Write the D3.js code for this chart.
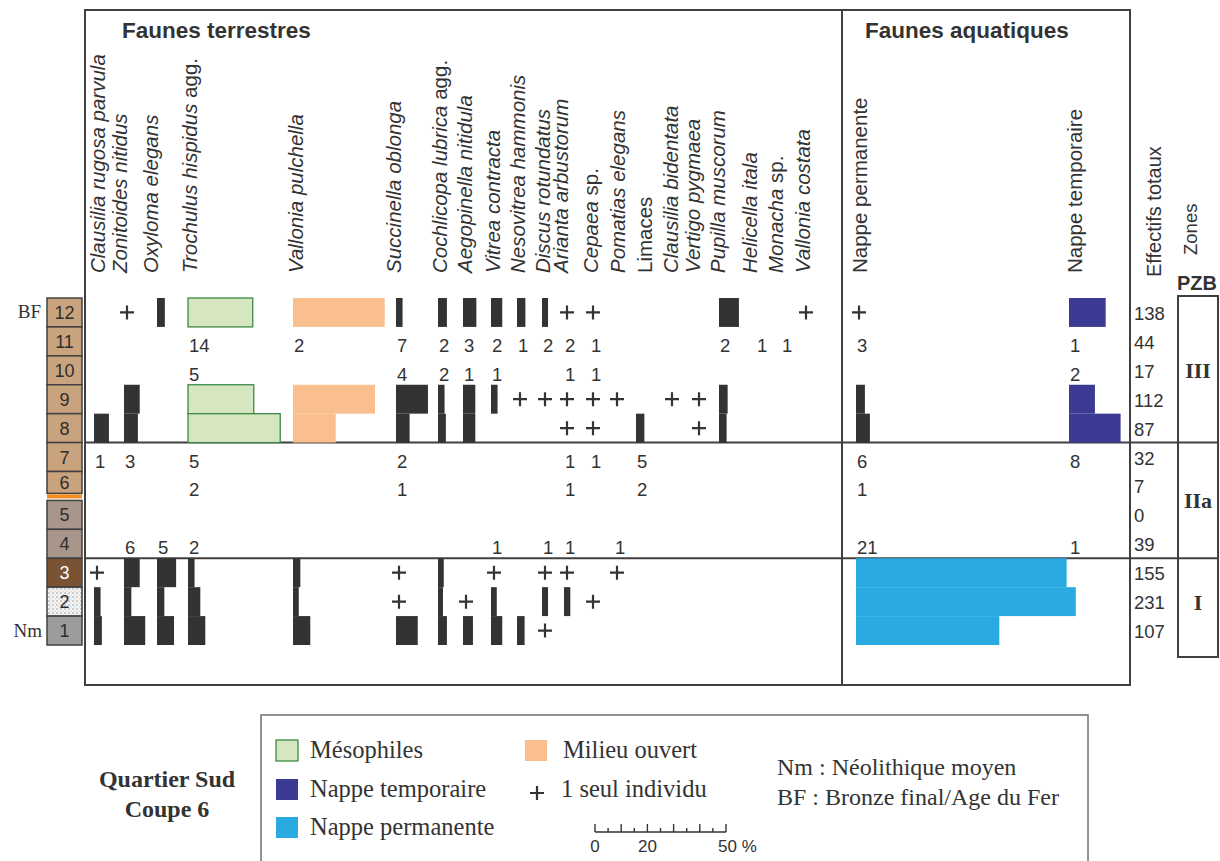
<!DOCTYPE html>
<html>
<head>
<meta charset="utf-8">
<script src="https://cdn.jsdelivr.net/npm/d3@7/dist/d3.min.js"></script>
<style>
  body { margin: 0; background: #fff; }
  svg { display: block; }
</style>
</head>
<body>
<div id="chart"></div>
<script>
// stratigraphic levels, top to bottom
var levels = [12, 11, 10, 9, 8, 7, 6, 5, 4, 3, 2, 1];
var totals = [138, 44, 17, 112, 87, 32, 7, 0, 39, 155, 231, 107];
var zones = ["III", "IIa", "I"];
var zoneTop = [12, 7, 3];
var zoneBottom = [8, 4, 1];

var taxa = [
    "Clausilia rugosa parvula", "Zonitoides nitidus", "Oxyloma elegans", "Trochulus hispidus agg.",
    "Vallonia pulchella", "Succinella oblonga", "Cochlicopa lubrica agg.", "Aegopinella nitidula",
    "Vitrea contracta", "Nesovitrea hammonis", "Discus rotundatus", "Arianta arbustorum",
    "Cepaea sp.", "Pomatias elegans", "Limaces", "Clausilia bidentata", "Vertigo pygmaea",
    "Pupilla muscorum", "Helicella itala", "Monacha sp.", "Vallonia costata",
    "Nappe permanente", "Nappe temporaire"
];
var plainTaxa = ["Limaces", "Nappe permanente", "Nappe temporaire"];

// percentages (levels with enough shells), "+" = 1 seul individu
var barLevels = [12, 9, 8, 3, 2, 1];
var pct12 = [0, "+", 3.0, 24.7, 35.0, 2.5, 3.4, 5.1, 4.3, 3.2, 2.3, "+", "+", 0, 0, 0, 0, 7.6, 0, 0, "+", "+", 14.0];
var pct9 = [0, 6.0, 0, 25.1, 31.3, 12.2, 2.5, 4.7, 2.5, "+", "+", "+", "+", "+", 0, "+", "+", 3.3, 0, 0, 0, 3.4, 9.9];
var pct8 = [5.7, 5.3, 0, 35.2, 16.3, 5.2, 3.0, 4.7, 0, 0, 0, "+", "+", 0, 3.2, 0, "+", 2.9, 0, 0, 0, 5.3, 19.7];
var pct3 = ["+", 6.0, 7.3, 2.5, 2.8, "+", 2.2, 0, "+", 0, "+", "+", 0, "+", 0, 0, 0, 0, 0, 0, 0, 80.4, 0];
var pct2 = [2.5, 2.8, 2.8, 4.7, 2.2, "+", 1.9, "+", 2.2, 0, 2.3, 2.4, "+", 0, 0, 0, 0, 0, 0, 0, 0, 83.9, 0];
var pct1 = [3.0, 8.1, 6.5, 6.6, 6.6, 8.3, 3.4, 3.8, 4.3, 2.9, "+", 0, 0, 0, 0, 0, 0, 0, 0, 0, 0, 54.7, 0];

// raw counts (small samples)
var countLevels = [11, 10, 7, 6, 5, 4];
var count11 = [0, 0, 0, 14, 2, 7, 2, 3, 2, 1, 2, 2, 1, 0, 0, 0, 0, 2, 1, 1, 0, 3, 1];
var count10 = [0, 0, 0, 5, 0, 4, 2, 1, 1, 0, 0, 1, 1, 0, 0, 0, 0, 0, 0, 0, 0, 0, 2];
var count7 = [1, 3, 0, 5, 0, 2, 0, 0, 0, 0, 0, 1, 1, 0, 5, 0, 0, 0, 0, 0, 0, 6, 8];
var count6 = [0, 0, 0, 2, 0, 1, 0, 0, 0, 0, 0, 1, 0, 0, 2, 0, 0, 0, 0, 0, 0, 1, 0];
var count5 = [0, 0, 0, 0, 0, 0, 0, 0, 0, 0, 0, 0, 0, 0, 0, 0, 0, 0, 0, 0, 0, 0, 0];
var count4 = [0, 6, 5, 2, 0, 0, 0, 0, 1, 0, 1, 1, 0, 1, 0, 0, 0, 0, 0, 0, 0, 21, 1];

// ecological groups shown in colour, per zone
var groups = ["Mésophiles", "Milieu ouvert", "Nappe temporaire", "Nappe permanente"];
var groupTaxa = ["Trochulus hispidus agg.", "Vallonia pulchella", "Nappe temporaire", "Nappe permanente"];
var groupZone = ["III", "III", "III", "I"];

var width = 1220, height = 861;
var ink = "#333333";
var sans = "'Liberation Sans', Arial, sans-serif";
var serif = "'Liberation Serif', 'Times New Roman', serif";

var svg = d3.select("#chart").append("svg")
    .attr("width", width)
    .attr("height", height);

var defs = svg.append("defs");
var dots = defs.append("pattern")
    .attr("id", "dots").attr("width", 4).attr("height", 4)
    .attr("patternUnits", "userSpaceOnUse");
dots.append("rect").attr("width", 4).attr("height", 4).attr("fill", "#f4f4f4");
dots.append("circle").attr("cx", 1).attr("cy", 1).attr("r", 0.7).attr("fill", "#8a8a8a");
dots.append("circle").attr("cx", 3).attr("cy", 3).attr("r", 0.5).attr("fill", "#b0b0b0");

// scales
var y = d3.scaleBand().domain(levels).range([298, 645]);
var bw = y.bandwidth();
var w = d3.scaleLinear().domain([0, 50]).range([0, 131]);
var colX = d3.scaleOrdinal().domain(taxa).range([
    94, 124, 157, 188, 293, 396, 438, 463, 491, 517, 542, 564,
    590, 614, 636, 669, 696, 719, 756, 781, 803, 856, 1069
]);
var labX = d3.scaleOrdinal().domain(taxa).range([
    104.5, 126.5, 158, 196.5, 303, 401, 446.5, 471.5, 499.5, 524.5, 549.5, 568,
    598, 624.5, 651.5, 678, 699.5, 724.5, 756.5, 783, 809.5, 866.5, 1081.5
]);
var groupColor = d3.scaleOrdinal().domain(groups)
    .range(["#d5e6c1", "#f9bf8f", "#3b3b93", "#29abe2"]);
var levelFill = d3.scaleOrdinal().domain(levels)
    .range(["#c9a37d", "#c9a37d", "#c9a37d", "#c9a37d", "#c9a37d", "#c9a37d", "#c9a37d",
            "#a8968a", "#a8968a", "#7a5234", "url(#dots)", "#9c9c9c"]);

var zoneOf = function (lv) {
    return lv >= 8 ? "III" : (lv >= 4 ? "IIa" : "I");
};
var groupOf = function (taxon, lv) {
    var i = groupTaxa.indexOf(taxon);
    if (i < 0 || groupZone[i] !== zoneOf(lv)) return null;
    return groups[i];
};

// flatten tables
var pctRows = [pct12, pct9, pct8, pct3, pct2, pct1];
var countRows = [count11, count10, count7, count6, count5, count4];
var bars = [], singles = [], counts = [];
barLevels.forEach(function (lv, i) {
    pctRows[i].forEach(function (v, j) {
        if (v === "+") singles.push({level: lv, taxon: taxa[j]});
        else if (v > 0) bars.push({level: lv, taxon: taxa[j], value: v});
    });
});
countLevels.forEach(function (lv, i) {
    countRows[i].forEach(function (v, j) {
        if (v > 0) counts.push({level: lv, taxon: taxa[j], value: v});
    });
});

// frame
var frame = svg.append("g").attr("fill", "none").attr("stroke", "#404040").attr("stroke-width", 2);
frame.append("rect").attr("x", 85).attr("y", 10).attr("width", 1045).attr("height", 675);
frame.append("line").attr("x1", 842).attr("x2", 842).attr("y1", 10).attr("y2", 685);
[8, 4].forEach(function (lv) {
    frame.append("line")
        .attr("x1", 85).attr("x2", 1218)
        .attr("y1", y(lv) + bw).attr("y2", y(lv) + bw);
});
frame.append("rect")
    .attr("x", 1178).attr("y", y(12) - 2)
    .attr("width", 40).attr("height", y(1) + bw + 12 - (y(12) - 2));

// headers
svg.append("text").attr("x", 122).attr("y", 38).text("Faunes terrestres")
    .attr("font-family", sans).attr("font-weight", "bold").attr("font-size", 22.5).attr("fill", ink);
svg.append("text").attr("x", 865).attr("y", 38).text("Faunes aquatiques")
    .attr("font-family", sans).attr("font-weight", "bold").attr("font-size", 22.5).attr("fill", ink);

var labels = svg.append("g").attr("font-family", sans).attr("font-size", 20.5).attr("fill", ink)
    .selectAll("text").data(taxa).join("text")
    .attr("transform", function (d) { return "translate(" + labX(d) + ",273) rotate(-90)"; });
labels.each(function (d) {
    var t = d3.select(this);
    if (plainTaxa.indexOf(d) >= 0) { t.text(d); return; }
    var m = d.match(/^(.*?)( agg\.| sp\.)?$/);
    t.append("tspan").attr("font-style", "italic").text(m[1]);
    if (m[2]) t.append("tspan").text(m[2]);
});

svg.append("text").attr("transform", "translate(1161,277) rotate(-90)")
    .attr("font-family", sans).attr("font-size", 20).attr("fill", ink).text("Effectifs totaux");
svg.append("text").attr("transform", "translate(1197,255) rotate(-90)")
    .attr("font-family", sans).attr("font-size", 18.5).attr("fill", ink).text("Zones");
svg.append("text").attr("x", 1197).attr("y", 290).attr("text-anchor", "middle")
    .attr("font-family", sans).attr("font-weight", "bold").attr("font-size", 20).attr("fill", ink).text("PZB");

// level column
var boxH = function (lv) { return lv === 6 ? bw - 7 : bw; };
var col = svg.append("g");
col.selectAll("rect").data(levels).join("rect")
    .attr("x", 47).attr("y", function (d) { return y(d); })
    .attr("width", 35).attr("height", boxH)
    .attr("fill", levelFill)
    .attr("stroke", "#404040").attr("stroke-width", 1.5);
col.append("rect")
    .attr("x", 47).attr("y", y(6) + bw - 6).attr("width", 35).attr("height", 4)
    .attr("fill", "#f28c1e");
col.selectAll("text").data(levels).join("text")
    .attr("x", 64.5)
    .attr("y", function (d) { return y(d) + boxH(d) / 2 + 6.5; })
    .attr("text-anchor", "middle")
    .attr("font-family", sans).attr("font-size", 18)
    .attr("fill", function (d) { return d === 3 ? "#fff" : "#2e2e2e"; })
    .text(function (d) { return d; });
svg.append("text").attr("x", 41).attr("y", y(12) + bw / 2 + 6).attr("text-anchor", "end")
    .attr("font-family", serif).attr("font-size", 19).attr("fill", ink).text("BF");
svg.append("text").attr("x", 42).attr("y", y(1) + bw / 2 + 6).attr("text-anchor", "end")
    .attr("font-family", serif).attr("font-size", 19).attr("fill", ink).text("Nm");

// bars
svg.append("g").selectAll("rect").data(bars).join("rect")
    .attr("x", function (d) { return colX(d.taxon); })
    .attr("y", function (d) { return y(d.level); })
    .attr("width", function (d) { return w(d.value); })
    .attr("height", bw)
    .attr("fill", function (d) {
        var g = groupOf(d.taxon, d.level);
        return g ? groupColor(g) : ink;
    })
    .attr("stroke", function (d) { return groupOf(d.taxon, d.level) === "Mésophiles" ? "#3c8a44" : "none"; })
    .attr("stroke-width", 1.3);

// single individuals
svg.append("g").attr("stroke", ink).attr("stroke-width", 2.2).attr("fill", "none")
    .selectAll("path").data(singles).join("path")
    .attr("d", function (d) {
        var cx = colX(d.taxon) + 3, cy = y(d.level) + bw / 2;
        return "M" + (cx - 7) + "," + cy + "H" + (cx + 7) + "M" + cx + "," + (cy - 7) + "V" + (cy + 7);
    });

// counts for small samples
svg.append("g").attr("font-family", sans).attr("font-size", 18.5).attr("fill", ink)
    .selectAll("text").data(counts).join("text")
    .attr("x", function (d) { return colX(d.taxon) + 1; })
    .attr("y", function (d) { return y(d.level) + bw - 4; })
    .text(function (d) { return d.value; });

// totals
svg.append("g").attr("font-family", sans).attr("font-size", 18.5).attr("fill", ink)
    .selectAll("text").data(levels).join("text")
    .attr("x", 1134)
    .attr("y", function (d) { return y(d) + bw / 2 + 7.5; })
    .text(function (d, i) { return totals[i]; });

// zones
svg.append("g").attr("font-family", serif).attr("font-weight", "bold").attr("font-size", 22).attr("fill", ink)
    .selectAll("text").data(zones).join("text")
    .attr("x", 1198).attr("text-anchor", "middle")
    .attr("y", function (d, i) { return (y(zoneTop[i]) + y(zoneBottom[i]) + bw) / 2 + 8; })
    .text(function (d) { return d; });

// legend
svg.append("text").attr("x", 167).attr("y", 787).attr("text-anchor", "middle")
    .attr("font-family", serif).attr("font-weight", "bold").attr("font-size", 24).attr("fill", ink).text("Quartier Sud");
svg.append("text").attr("x", 167).attr("y", 817).attr("text-anchor", "middle")
    .attr("font-family", serif).attr("font-weight", "bold").attr("font-size", 24).attr("fill", ink).text("Coupe 6");

var legend = svg.append("g");
legend.append("rect").attr("x", 261).attr("y", 715).attr("width", 827).attr("height", 200)
    .attr("fill", "none").attr("stroke", "#707070").attr("stroke-width", 1.5);

var legendPos = {
    "Mésophiles": [276, 740],
    "Nappe temporaire": [276, 779],
    "Nappe permanente": [276, 817],
    "Milieu ouvert": [525, 740]
};
var items = legend.selectAll("g.item").data(groups).join("g").attr("class", "item")
    .attr("transform", function (d) { return "translate(" + legendPos[d][0] + "," + legendPos[d][1] + ")"; });
items.append("rect")
    .attr("width", 22).attr("height", 21)
    .attr("fill", groupColor)
    .attr("stroke", function (d) { return d === "Mésophiles" ? "#3c8a44" : "none"; })
    .attr("stroke-width", 1.3);
items.append("text")
    .attr("x", function (d) { return d === "Milieu ouvert" ? 38 : 34; })
    .attr("y", 17.5)
    .attr("font-family", serif).attr("font-size", 24.5).attr("fill", ink)
    .text(function (d) { return d; });

legend.append("path").attr("stroke", ink).attr("stroke-width", 2.2)
    .attr("d", "M530,793H544M537,786V800");
legend.append("text").attr("x", 561).attr("y", 797)
    .attr("font-family", serif).attr("font-size", 24.5).attr("fill", ink).text("1 seul individu");

legend.append("text").attr("x", 777).attr("y", 775)
    .attr("font-family", serif).attr("font-size", 24).attr("fill", ink).text("Nm : Néolithique moyen");
legend.append("text").attr("x", 777).attr("y", 805)
    .attr("font-family", serif).attr("font-size", 24).attr("fill", ink).text("BF : Bronze final/Age du Fer");

// percentage scale bar
var sb = legend.append("g").attr("transform", "translate(595,832)");
sb.append("line").attr("x1", w(0)).attr("x2", w(50)).attr("stroke", ink).attr("stroke-width", 1.6);
sb.selectAll("line.tick").data(d3.range(0, 51, 5)).join("line").attr("class", "tick")
    .attr("x1", w).attr("x2", w)
    .attr("y1", 0).attr("y2", function (d) { return d % 10 === 0 ? -8 : -4; })
    .attr("stroke", ink).attr("stroke-width", 1.4);
sb.selectAll("text").data([0, 20, 50]).join("text")
    .attr("x", w).attr("y", 20).attr("text-anchor", function (d) { return d === 50 ? "start" : "middle"; })
    .attr("dx", function (d) { return d === 50 ? -8 : 0; })
    .attr("font-family", sans).attr("font-size", 17).attr("fill", ink)
    .text(function (d) { return d === 50 ? "50 %" : d; });
</script>
</body>
</html>
